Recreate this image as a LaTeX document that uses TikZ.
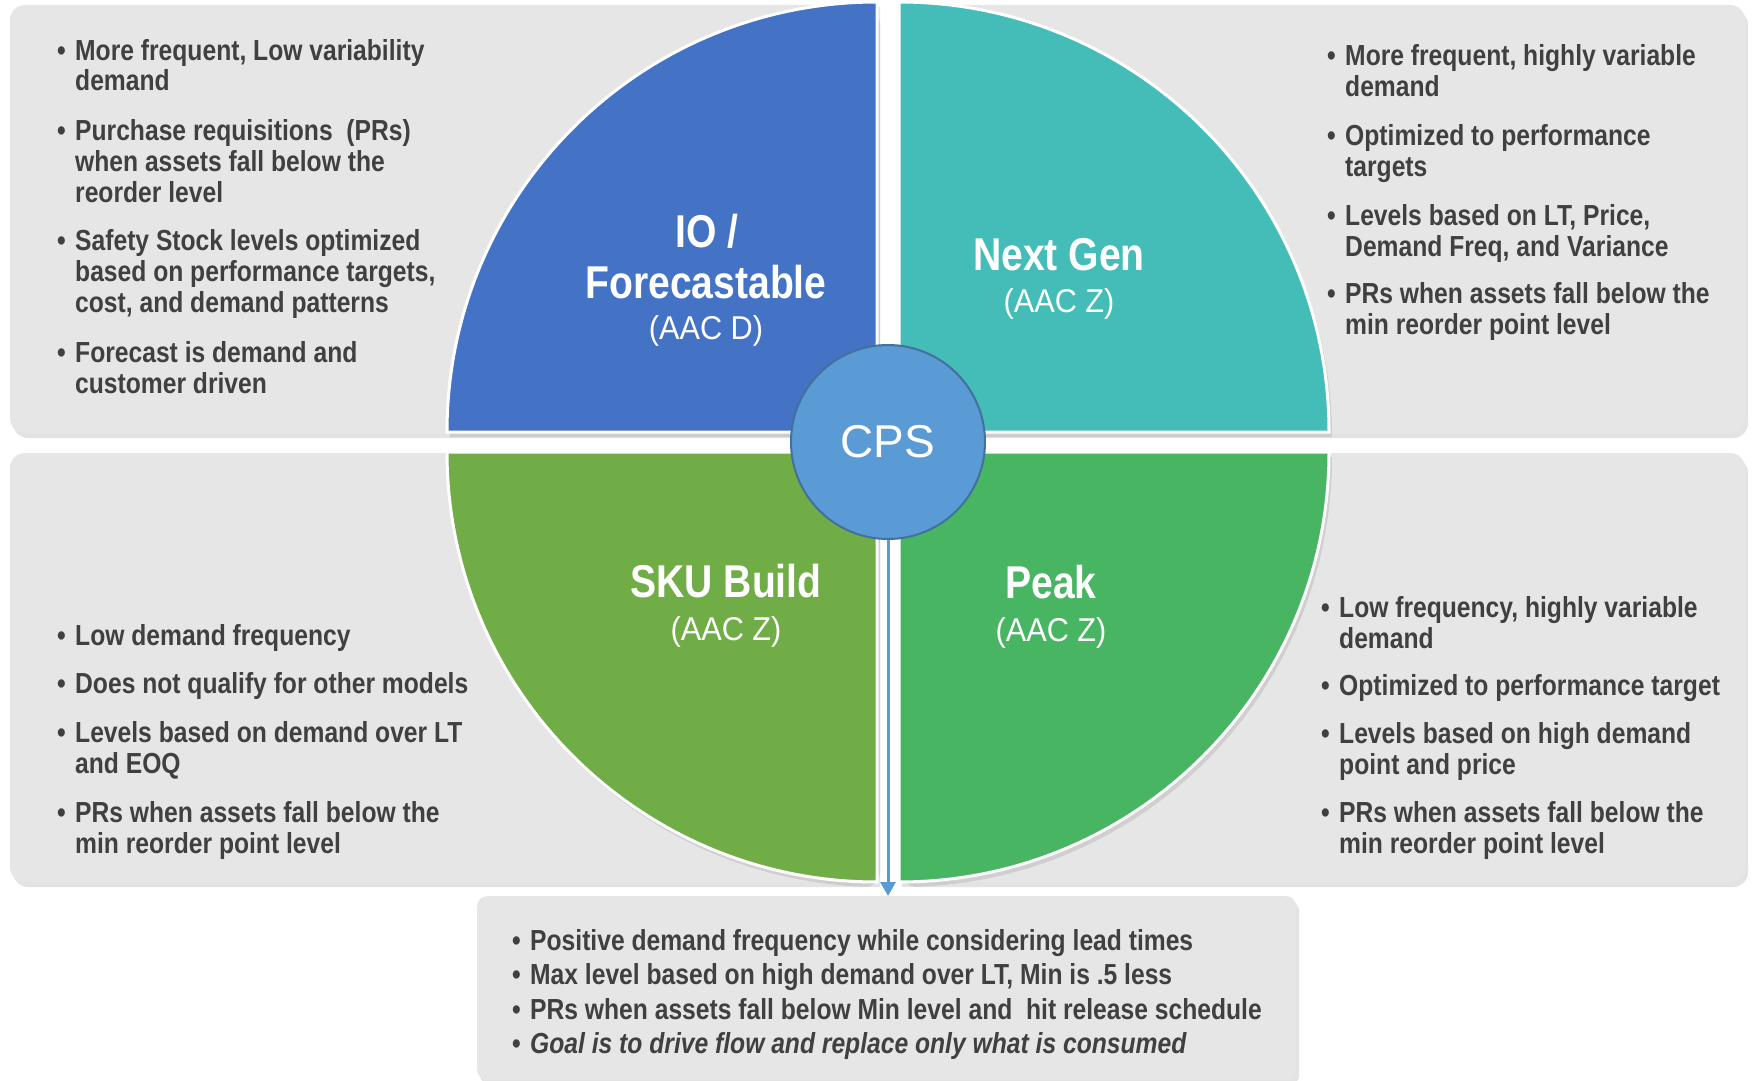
\documentclass[tikz,border=0pt]{standalone}
\usepackage{fontspec}
\setmainfont{Liberation Sans}[FakeStretch=0.85]
\newfontfamily\lightfont{Liberation Sans}[FakeStretch=0.93]
\newfontfamily\cpsfont{Liberation Sans}
\usetikzlibrary{shadows,arrows.meta}
\definecolor{gbox}{HTML}{E6E6E6}
\definecolor{txtc}{HTML}{404040}
\definecolor{qio}{HTML}{4472C4}
\definecolor{qng}{HTML}{44BDB8}
\definecolor{qsku}{HTML}{70AD47}
\definecolor{qpk}{HTML}{47B562}
\definecolor{cpsfill}{HTML}{5B9BD5}
\definecolor{cpsline}{HTML}{41719C}
\tikzset{
  panel/.style={fill=gbox, rounded corners=15pt,
    drop shadow={shadow xshift=3pt, shadow yshift=-5pt, opacity=0.22}},
  quad/.style={draw=white, line width=3pt,
    drop shadow={shadow xshift=3pt, shadow yshift=-5pt, opacity=0.22}},
  itemtxt/.style={anchor=base west, inner sep=0pt, text=txtc,
    font=\bfseries\fontsize{29}{31}\selectfont},
  bul/.style={anchor=base west, inner sep=0pt, text=txtc,
    font=\bfseries\fontsize{29}{31}\selectfont},
  qtitle/.style={anchor=base, inner sep=0pt, text=white,
    font=\bfseries\fontsize{46}{51}\selectfont},
  qsub/.style={anchor=base, inner sep=0pt, text=white,
    font=\lightfont\fontsize{33}{36}\selectfont},
  flowarrow/.style={draw=cpsfill, line width=3pt, -{Triangle[width=15pt,length=14pt]}},
}
\newcommand\bitem[4]{%
  \node[bul] (#1b) at (#2-18,-#3) {\textbullet};
  \node[itemtxt] (#1) at (#2,-#3) {\begin{tabular}[t]{@{}l@{}}#4\end{tabular}};}
\begin{document}
\begin{tikzpicture}[x=1pt,y=1pt]
\path[use as bounding box] (0,0) rectangle (1756,-1081);
\fill[white] (0,0) rectangle (1756,-1081);
% panels
\path[panel] (10,-5) rectangle (877,-433);
\path[panel] (899,-5) rectangle (1745,-433);
\path[panel] (10,-453) rectangle (877,-882);
\path[panel] (899,-453) rectangle (1745,-882);
\node[panel, rounded corners=10pt, anchor=north west, inner sep=0pt,
  minimum width=819pt, minimum height=184pt] (bbox) at (477,-896) {};
% quadrants
\path[quad, fill=qio] (877,-432) -- (877,-2) arc[start angle=90, end angle=180, radius=430] -- cycle;
\path[quad, fill=qng] (899,-432) -- (899,-2) arc[start angle=90, end angle=0, radius=430] -- cycle;
\path[quad, fill=qsku] (877,-452) -- (877,-882) arc[start angle=270, end angle=180, radius=430] -- cycle;
\path[quad, fill=qpk] (899,-452) -- (899,-882) arc[start angle=-90, end angle=0, radius=430] -- cycle;
% quadrant labels
\node[qtitle] (io1) at (707,-247) {IO /};
\node[qtitle] (io2) at (706,-298) {Forecastable};
\node[qsub] (io3) at (706,-339) {(AAC D)};
\node[qtitle] (ng1) at (1059,-270) {Next Gen};
\node[qsub] (ng2) at (1059,-312) {(AAC Z)};
\node[qtitle] (sk1) at (726,-597) {SKU Build};
\node[qsub] (sk2) at (726,-640) {(AAC Z)};
\node[qtitle] (pk1) at (1051,-598) {Peak};
\node[qsub] (pk2) at (1051,-641) {(AAC Z)};
% CPS and arrow
\node[circle, fill=cpsfill, draw=cpsline, line width=2pt, minimum size=194pt,
  inner sep=0pt, text=white, font=\cpsfont\fontsize{46}{50}\selectfont] (cps) at (888,-442) {CPS};
\draw[flowarrow] (cps.south) -- (cps.south |- bbox.north);
% top-left texts
\bitem{tl1}{75}{60}{More frequent, Low variability\\demand}
\bitem{tl2}{75}{140}{Purchase requisitions \ (PRs)\\when assets fall below the\\reorder level}
\bitem{tl3}{75}{250}{Safety Stock levels optimized\\based on performance targets,\\cost, and demand patterns}
\bitem{tl4}{75}{362}{Forecast is demand and\\customer driven}
% top-right texts
\bitem{tr1}{1345}{66}{More frequent, highly variable\\demand}
\bitem{tr2}{1345}{145}{Optimized to performance\\targets}
\bitem{tr3}{1345}{225}{Levels based on LT, Price,\\Demand Freq, and Variance}
\bitem{tr4}{1345}{303}{PRs when assets fall below the\\min reorder point level}
% bottom-left texts
\bitem{bl1}{75}{645}{Low demand frequency}
\bitem{bl2}{75}{693}{Does not qualify for other models}
\bitem{bl3}{75}{742}{Levels based on demand over LT\\and EOQ}
\bitem{bl4}{75}{822}{PRs when assets fall below the\\min reorder point level}
% bottom-right texts
\bitem{br1}{1339}{617}{Low frequency, highly variable\\demand}
\bitem{br2}{1339}{695}{Optimized to performance target}
\bitem{br3}{1339}{743}{Levels based on high demand\\point and price}
\bitem{br4}{1339}{822}{PRs when assets fall below the\\min reorder point level}
% bottom box texts
\bitem{bb1}{530}{950}{Positive demand frequency while considering lead times}
\bitem{bb2}{530}{984}{Max level based on high demand over LT, Min is .5 less}
\bitem{bb3}{530}{1019}{PRs when assets fall below Min level and \ hit release schedule}
\bitem{bb4}{530}{1053}{\itshape Goal is to drive flow and replace only what is consumed}
\end{tikzpicture}
\end{document}
